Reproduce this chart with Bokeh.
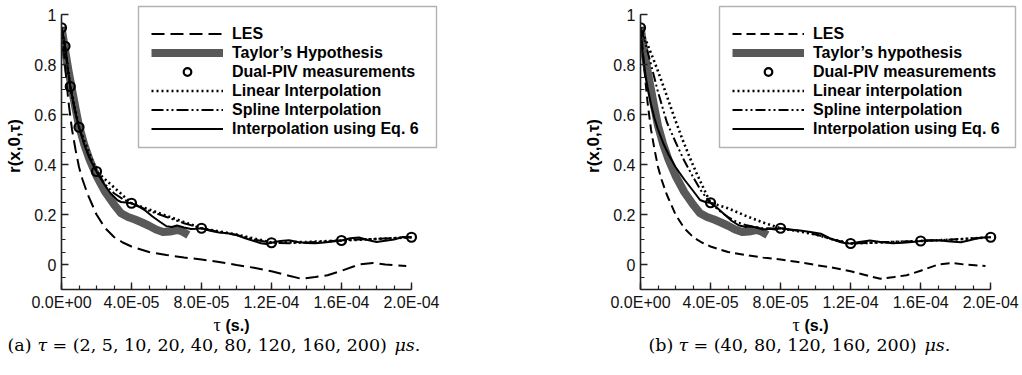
import numpy as np
from bokeh.plotting import figure
from bokeh.models import Range1d, FixedTicker, Legend, LegendItem, BoxAnnotation
from bokeh.core.properties import value
from bokeh.layouts import row, column
from bokeh.embed import file_html
from bokeh.resources import INLINE

# ---------------- data (tau in microseconds, converted to seconds below) ----------------
les_tau = [0, 1, 2, 3, 4, 6, 8, 10, 12, 15, 20, 25, 30, 35, 40, 50, 60, 70, 80, 90, 100,
           110, 120, 130, 137, 145, 152, 160, 170, 178, 185, 191, 197]
les_r = [0.95, 0.88, 0.80, 0.72, 0.65, 0.54, 0.46, 0.39, 0.34, 0.28, 0.20, 0.145, 0.11, 0.088,
         0.072, 0.05, 0.038, 0.028, 0.02, 0.01, -0.002, -0.013, -0.027, -0.045, -0.057, -0.05,
         -0.043, -0.025, 0.0, 0.006, 0.0, -0.003, -0.006]

taylor_tau = [0, 2, 4, 6, 8, 10, 13, 16, 20, 25, 30, 34, 38, 42, 46, 50, 54, 58, 62, 66, 69, 72.5]
taylor_r = [0.95, 0.86, 0.775, 0.70, 0.625, 0.555, 0.48, 0.42, 0.355, 0.29, 0.24, 0.205, 0.19,
            0.18, 0.168, 0.155, 0.14, 0.13, 0.132, 0.138, 0.132, 0.118]

# panel (a)
piv_a_tau = [0, 2, 5, 10, 20, 40, 80, 120, 160, 200]
piv_a_r = [0.947, 0.873, 0.712, 0.549, 0.372, 0.245, 0.145, 0.087, 0.096, 0.109]

lin_a_tau = [0, 2, 5, 10, 20, 40, 80, 100, 110, 120, 140, 160, 180, 200]
lin_a_r = [0.947, 0.873, 0.712, 0.549, 0.372, 0.245, 0.145, 0.12, 0.104, 0.088, 0.09, 0.096,
           0.102, 0.109]

spl_a_tau = [0, 1, 2, 3.5, 5, 7.5, 10, 15, 20, 25, 30, 35, 40, 50, 60, 70, 80, 90, 100, 110,
             120, 130, 140, 150, 160, 170, 180, 190, 200]
spl_a_r = [0.947, 0.91, 0.873, 0.79, 0.712, 0.625, 0.549, 0.445, 0.372, 0.32, 0.285, 0.262,
           0.245, 0.215, 0.19, 0.165, 0.145, 0.13, 0.118, 0.1, 0.087, 0.085, 0.088, 0.092, 0.096,
           0.1, 0.103, 0.106, 0.109]

eq6_a_tau = [0, 1, 2, 3.5, 5, 7.5, 10, 13, 16, 20, 24, 28, 32, 34, 37, 40, 44, 48, 52, 56, 60,
             63, 66, 70, 74, 77, 80, 85, 90, 95, 100, 105, 110, 114, 117, 120, 125, 130, 135,
             140, 145, 150, 155, 160, 165, 170, 175, 180, 185, 190, 195, 200]
eq6_a_r = [0.947, 0.91, 0.873, 0.79, 0.712, 0.62, 0.549, 0.48, 0.425, 0.372, 0.325, 0.285,
           0.257, 0.25, 0.248, 0.245, 0.232, 0.215, 0.192, 0.172, 0.153, 0.15, 0.156, 0.148,
           0.142, 0.143, 0.145, 0.135, 0.128, 0.125, 0.118, 0.105, 0.094, 0.085, 0.082, 0.087,
           0.094, 0.097, 0.09, 0.086, 0.085, 0.088, 0.092, 0.096, 0.105, 0.108, 0.098, 0.09,
           0.095, 0.1, 0.11, 0.109]

# panel (b)
piv_b_tau = [0, 40, 80, 120, 160, 200]
piv_b_r = [0.947, 0.247, 0.145, 0.084, 0.094, 0.109]

lin_b_tau = [0, 4, 8, 12, 16, 20, 24, 28, 32, 36, 40, 50, 60, 70, 80, 90, 100, 110, 120, 140,
             160, 180, 200]
lin_b_r = [0.947, 0.88, 0.81, 0.735, 0.655, 0.575, 0.50, 0.43, 0.365, 0.305, 0.247, 0.225,
           0.195, 0.168, 0.145, 0.133, 0.12, 0.1, 0.084, 0.089, 0.094, 0.1, 0.109]

spl_b_tau = [0, 3, 6, 10, 15, 20, 25, 30, 35, 40, 45, 50, 55, 60, 65, 70, 75, 80, 90, 100, 110,
             120, 130, 140, 150, 160, 170, 180, 190, 200]
spl_b_r = [0.947, 0.88, 0.80, 0.69, 0.57, 0.49, 0.415, 0.35, 0.29, 0.247, 0.215, 0.19, 0.17,
           0.158, 0.15, 0.145, 0.144, 0.145, 0.135, 0.12, 0.1, 0.084, 0.086, 0.09, 0.092, 0.094,
           0.097, 0.101, 0.105, 0.109]

eq6_b_tau = [0, 1, 2, 3, 4, 6, 8, 10, 13, 16, 20, 25, 30, 34, 37, 40, 44, 48, 52, 56, 60, 63,
             66, 70, 74, 77, 80, 85, 91, 97, 103, 108, 114, 117, 120, 125, 131, 137, 144, 150,
             155, 160, 165, 171, 177, 183, 188, 192, 196, 200]
eq6_b_r = [0.947, 0.86, 0.80, 0.75, 0.71, 0.64, 0.585, 0.54, 0.485, 0.44, 0.39, 0.34, 0.295,
           0.258, 0.25, 0.247, 0.225, 0.2, 0.175, 0.157, 0.15, 0.152, 0.148, 0.14, 0.143, 0.14,
           0.145, 0.14, 0.136, 0.13, 0.123, 0.105, 0.09, 0.085, 0.084, 0.09, 0.096, 0.09, 0.085,
           0.087, 0.09, 0.094, 0.097, 0.096, 0.092, 0.089, 0.097, 0.104, 0.108, 0.109]

x_ticks = [0.0, 4e-05, 8e-05, 0.00012, 0.00016, 0.0002]
x_tick_labels = ["0.0E+00", "4.0E-05", "8.0E-05", "1.2E-04", "1.6E-04", "2.0E-04"]
y_ticks = [0.0, 0.2, 0.4, 0.6, 0.8, 1.0]
y_tick_labels = ["0", "0.2", "0.4", "0.6", "0.8", "1"]

labels_a = ["LES", "Taylor\u2019s Hypothesis", "Dual-PIV measurements",
            "Linear Interpolation", "Spline Interpolation", "Interpolation using Eq. 6"]
labels_b = ["LES", "Taylor\u2019s hypothesis", "Dual-PIV measurements",
            "Linear interpolation", "Spline interpolation", "Interpolation using Eq. 6"]

y_title = "r(x,0,\u03c4)"
x_title = ["\u03c4", "(s.)"]
caption_a = ["(a)", "\u03c4", "= (2, 5, 10, 20, 40, 80, 120, 160, 200)", "\u03bcs."]
caption_b = ["(b)", "\u03c4", "= (40, 80, 120, 160, 200)", "\u03bcs."]

US = 1e-6
SANS = "Liberation Sans"
SERIF = "DejaVu Serif"
TOP_H = 313
CAP_H = 375 - TOP_H


def sec(t):
    return [v * US for v in t]


def panel(border_left, x_end_us, les_dash, spl_dash, data, labels, box):
    p = figure(width=511, height=TOP_H, output_backend="svg", toolbar_location=None,
               x_range=Range1d(0, x_end_us * US), y_range=Range1d(-0.1, 1.048),
               min_border_left=border_left,
               min_border_right=511 - border_left - int(round(x_end_us * 1.75)),
               min_border_top=2, min_border_bottom=TOP_H - 289)
    p.outline_line_color = None
    p.grid.visible = False
    p.background_fill_color = "white"
    p.border_fill_color = "white"

    xminor = [i * 1e-5 for i in range(21)]
    yminor = [-0.1 + 0.05 * i for i in range(23)]
    p.xaxis.ticker = FixedTicker(ticks=x_ticks, minor_ticks=xminor)
    p.yaxis.ticker = FixedTicker(ticks=y_ticks, minor_ticks=yminor)
    p.xaxis.major_label_overrides = dict(zip(x_ticks, x_tick_labels))
    p.yaxis.major_label_overrides = dict(zip(y_ticks, y_tick_labels))
    p.xaxis.bounds = (0, 0.0002)
    p.yaxis.bounds = (-0.1, 1.0)
    for ax in (p.xaxis[0], p.yaxis[0]):
        ax.axis_line_color = "#222222"
        ax.axis_line_width = 1.6
        ax.major_tick_line_color = "#222222"
        ax.minor_tick_line_color = "#222222"
        ax.major_tick_line_width = 1.4
        ax.minor_tick_line_width = 1.2
        ax.major_tick_in = 7
        ax.major_tick_out = 0
        ax.minor_tick_in = 4
        ax.minor_tick_out = 0
        ax.major_label_text_font = SANS
        ax.major_label_text_font_size = "16px"
        ax.major_label_text_color = "#111111"
    p.xaxis.major_label_standoff = 4
    p.yaxis.major_label_standoff = 5
    p.yaxis.axis_label = y_title
    p.yaxis.axis_label_text_font = SANS
    p.yaxis.axis_label_text_font_style = "bold"
    p.yaxis.axis_label_text_font_size = "17px"
    p.yaxis.axis_label_text_color = "black"
    p.yaxis.axis_label_standoff = 7

    (les_t, les_v), (tay_t, tay_v), (piv_t, piv_v), (lin_t, lin_v), (spl_t, spl_v), (eq_t, eq_v) = data
    r_tay = p.line(sec(tay_t), tay_v, line_color="#595959", line_width=8, line_join="round")
    r_les = p.line(sec(les_t), les_v, line_color="black", line_width=2, line_dash=les_dash)
    r_lin = p.line(sec(lin_t), lin_v, line_color="black", line_width=2.6, line_dash="2 3")
    r_spl = p.line(sec(spl_t), spl_v, line_color="black", line_width=2, line_dash=spl_dash)
    r_eq = p.line(sec(eq_t), eq_v, line_color="black", line_width=2)
    r_piv = p.scatter(sec(piv_t), piv_v, marker="circle", size=9, line_color="black",
                      line_width=2.2, fill_color=None)

    # legend frame
    bl, br, bt, bb = box
    p.add_layout(BoxAnnotation(left=bl, right=br, top=bt, bottom=bb,
                               left_units="screen", right_units="screen",
                               top_units="screen", bottom_units="screen",
                               fill_color=None, fill_alpha=0, line_color="black",
                               line_width=1.4))
    items = [LegendItem(label=l, renderers=[r]) for l, r in
             zip(labels, [r_les, r_tay, r_piv, r_lin, r_spl, r_eq])]
    leg = Legend(items=items, location=(bl + 13, 151), border_line_color=None,
                 background_fill_alpha=0, padding=0, spacing=0, margin=0,
                 glyph_width=72, glyph_height=19, label_height=19, label_standoff=9,
                 label_text_font=SANS, label_text_font_style="bold",
                 label_text_font_size="16px", label_text_color="black")
    p.add_layout(leg)
    return p


def caption_fig(xt_x, cap_x, caption):
    c = figure(width=511, height=CAP_H, output_backend="svg", toolbar_location=None,
               x_range=Range1d(0, 511), y_range=Range1d(CAP_H, 0),
               x_axis_location=None, y_axis_location=None, min_border=0)
    c.outline_line_color = None
    c.grid.visible = False
    # axis title "tau (s.)"
    c.text(x=[xt_x[0]], y=[11.6], text=[x_title[0]], text_font=value("Liberation Serif"),
           text_font_size="18px", text_align="left", text_baseline="alphabetic",
           text_color="black")
    c.text(x=[xt_x[1]], y=[11.6], text=[x_title[1]], text_font=value(SANS),
           text_font_style="bold", text_font_size="16px", text_align="left",
           text_baseline="alphabetic", text_color="black")
    styles = ["normal", "italic", "normal", "italic"]
    for txt, xx, st in zip(caption, cap_x, styles):
        c.text(x=[xx], y=[31], text=[txt], text_font=value(SERIF), text_font_style=st,
               text_font_size="17.5px", text_align="left", text_baseline="alphabetic",
               text_color="black")
    return c


data_a = [(les_tau, les_r), (taylor_tau, taylor_r), (piv_a_tau, piv_a_r),
          (lin_a_tau, lin_a_r), (spl_a_tau, spl_a_r), (eq6_a_tau, eq6_a_r)]
data_b = [(les_tau, les_r), (taylor_tau, taylor_r), (piv_b_tau, piv_b_r),
          (lin_b_tau, lin_b_r), (spl_b_tau, spl_b_r), (eq6_b_tau, eq6_b_r)]

p1 = panel(61, 256, "13 6", "12 3 2 3 2 3", data_a, labels_a, (77, 375, 283, 142))
p2 = panel(129, 217, "9 5", "10 3 2 3 2 3", data_b, labels_b, (79, 375, 283, 142))
c1 = caption_fig([213, 225], [7, 37, 52, 394], caption_a)
c2 = caption_fig([281, 293], [137, 167, 182, 413], caption_b)

layout = column(row(p1, p2), row(c1, c2))
open("out.html", "w").write(file_html(layout, INLINE, "correlation"))
